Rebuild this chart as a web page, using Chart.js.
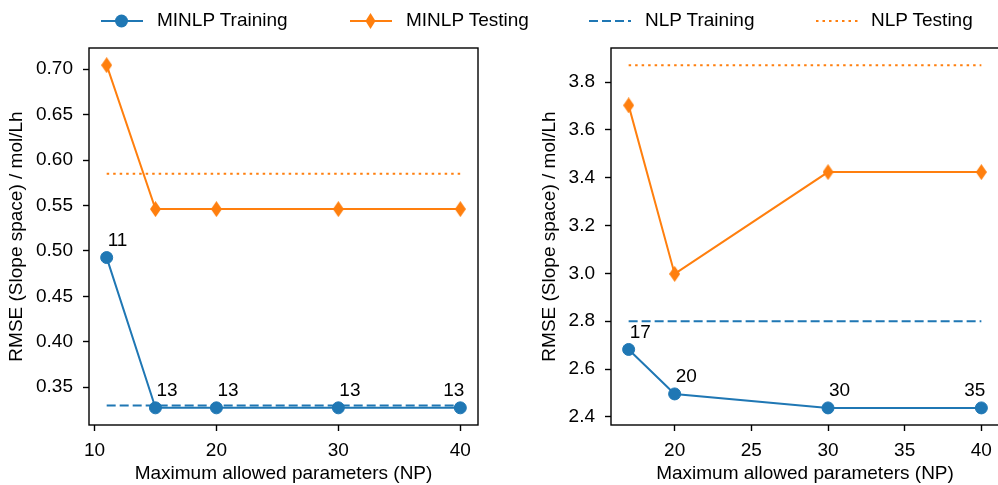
<!DOCTYPE html>
<html>
<head>
<meta charset="utf-8">
<script src="https://cdn.jsdelivr.net/npm/chart.js@4.4.1/dist/chart.umd.min.js"></script>
<style>
  body { margin: 0; background: #fff; width: 998px; height: 485px; position: relative; overflow: hidden;
         font-family: "Liberation Sans", Arial, sans-serif; }
  .chart-box { position: absolute; top: 0; height: 485px; }
  .leg-icon { position: absolute; top: 11px; }
  .leg-text { position: absolute; top: 9px; height: 22px; line-height: 22px; font-size: 19px; color: #000; white-space: nowrap; z-index: 2; }
</style>
</head>
<body>

<svg class="leg-icon" style="left:101px" width="42" height="20">
  <line x1="0" y1="10" x2="42" y2="10" stroke="#1f77b4" stroke-width="2"/>
  <circle cx="20.5" cy="10" r="6.5" fill="#1f77b4"/>
</svg>
<div class="leg-text" style="left:157px">MINLP Training</div>

<svg class="leg-icon" style="left:350px" width="42" height="20">
  <line x1="0" y1="10" x2="42" y2="10" stroke="#ff7f0e" stroke-width="2"/>
  <polygon points="20.5,2 25.5,10 20.5,18 15.5,10" fill="#ff7f0e"/>
</svg>
<div class="leg-text" style="left:406px">MINLP Testing</div>

<svg class="leg-icon" style="left:589px" width="42" height="20">
  <line x1="0" y1="10" x2="42" y2="10" stroke="#1f77b4" stroke-width="2" stroke-dasharray="9 4"/>
</svg>
<div class="leg-text" style="left:645px">NLP Training</div>

<svg class="leg-icon" style="left:816px" width="42" height="20">
  <line x1="0" y1="10" x2="42" y2="10" stroke="#ff7f0e" stroke-width="2" stroke-dasharray="2.5 4"/>
</svg>
<div class="leg-text" style="left:871px">NLP Testing</div>

<div class="chart-box" style="left:0;width:500px"><canvas id="left-chart" width="500" height="485"></canvas></div>
<div class="chart-box" style="left:500px;width:500px"><canvas id="right-chart" width="500" height="485"></canvas></div>

<script>
// ---- data ----
const leftNP = [11, 15, 20, 30, 40];
const leftMinlpTrain = [0.4926, 0.3272, 0.3272, 0.3272, 0.3272];
const leftMinlpTest = [0.7044, 0.546, 0.546, 0.546, 0.546];
const leftParamCount = ['11', '13', '13', '13', '13'];
const leftNlpTrain = 0.3297;
const leftNlpTest = 0.585;
const leftXTicks = [10, 20, 30, 40];
const leftYTicks = [0.35, 0.40, 0.45, 0.50, 0.55, 0.60, 0.65, 0.70];

const rightNP = [17, 20, 30, 40];
const rightMinlpTrain = [2.682, 2.496, 2.4375, 2.4375];
const rightMinlpTest = [3.703, 2.998, 3.424, 3.424];
const rightParamCount = ['17', '20', '30', '35'];
const rightNlpTrain = 2.80;
const rightNlpTest = 3.871;
const rightXTicks = [20, 25, 30, 35, 40];
const rightYTicks = [2.4, 2.6, 2.8, 3.0, 3.2, 3.4, 3.6, 3.8];

const BLUE = '#1f77b4';
const ORANGE = '#ff7f0e';
const FONT = { family: '"Liberation Sans", Arial, sans-serif', size: 19 };
const Y_TITLE = 'RMSE (Slope space) / mol/Lh';
const X_TITLE = 'Maximum allowed parameters (NP)';

// thin diamond marker (matplotlib 'd')
function thinDiamond(color, w, h) {
    const c = document.createElement('canvas');
    c.width = w; c.height = h;
    const g = c.getContext('2d');
    g.fillStyle = color;
    g.beginPath();
    g.moveTo(w / 2, 0); g.lineTo(w, h / 2); g.lineTo(w / 2, h); g.lineTo(0, h / 2);
    g.closePath(); g.fill();
    return c;
}
const diamond = thinDiamond(ORANGE, 11, 16);

// box around the plot area
const frame = {
    id: 'frame',
    afterDraw(chart) {
        const a = chart.chartArea, ctx = chart.ctx;
        ctx.save();
        ctx.strokeStyle = '#000';
        ctx.lineWidth = 1.4;
        ctx.strokeRect(a.left, a.top, a.right - a.left, a.bottom - a.top);
        ctx.restore();
    }
};

// parameter count annotations next to the training markers
const countLabels = {
    id: 'countLabels',
    afterDatasetsDraw(chart, args, opts) {
        const meta = chart.getDatasetMeta(0);
        const ctx = chart.ctx;
        const last = opts.labels.length - 1;
        ctx.save();
        ctx.font = FONT.size + 'px ' + FONT.family;
        ctx.fillStyle = '#000';
        ctx.textBaseline = 'alphabetic';
        opts.labels.forEach((t, i) => {
            const p = meta.data[i];
            // last label is pulled back inside the axes
            ctx.textAlign = i === last ? 'right' : 'left';
            ctx.fillText(t, i === last ? p.x + 4 : p.x + 1, p.y - 11.5);
        });
        ctx.restore();
    }
};

const zip = (xs, ys) => xs.map((x, i) => ({ x: x, y: ys[i] }));
const flat = (xs, v) => [{ x: xs[0], y: v }, { x: xs[xs.length - 1], y: v }];

function makeChart(id, p) {
    return new Chart(document.getElementById(id), {
        type: 'line',
        data: {
            datasets: [
                { label: 'MINLP Training', data: zip(p.np, p.train), borderColor: BLUE, backgroundColor: BLUE,
                  borderWidth: 2, pointRadius: 6, pointBorderWidth: 1, pointBorderColor: BLUE, pointBackgroundColor: BLUE },
                { label: 'MINLP Testing', data: zip(p.np, p.test), borderColor: ORANGE, backgroundColor: ORANGE,
                  borderWidth: 2, pointStyle: diamond },
                { label: 'NLP Training', data: flat(p.np, p.nlpTrain), borderColor: BLUE, borderWidth: 2,
                  borderDash: [9, 4], pointRadius: 0 },
                { label: 'NLP Testing', data: flat(p.np, p.nlpTest), borderColor: ORANGE, borderWidth: 2,
                  borderDash: [2.5, 4], pointRadius: 0 }
            ]
        },
        options: {
            responsive: false,
            animation: false,
            layout: { autoPadding: false, padding: { top: 48, right: p.padRight, bottom: 0, left: 0 } },
            plugins: {
                legend: { display: false },
                tooltip: { enabled: false },
                countLabels: { labels: p.counts }
            },
            scales: {
                x: {
                    type: 'linear', min: p.xMin, max: p.xMax,
                    afterBuildTicks: s => { s.ticks = p.xTicks.map(v => ({ value: v })); },
                    afterFit: s => { s.height = 60; s.paddingLeft = 0; s.paddingRight = 0; },
                    grid: { drawOnChartArea: false, tickLength: 6, tickColor: '#000', tickWidth: 1.4 },
                    border: { display: false },
                    ticks: { color: '#000', font: FONT, padding: 8, maxRotation: 0 },
                    title: { display: true, text: X_TITLE, color: '#000', font: FONT, padding: { top: 0, bottom: 0 } }
                },
                y: {
                    type: 'linear', min: p.yMin, max: p.yMax,
                    afterBuildTicks: s => { s.ticks = p.yTicks.map(v => ({ value: v })); },
                    afterFit: s => { s.width = p.yWidth; s.paddingTop = 0; s.paddingBottom = 0; },
                    grid: { drawOnChartArea: false, tickLength: 6, tickColor: '#000', tickWidth: 1.4 },
                    border: { display: false },
                    ticks: { color: '#000', font: FONT, padding: 10, callback: v => v.toFixed(p.digits) },
                    title: { display: true, text: Y_TITLE, color: '#000', font: FONT, padding: { top: p.titlePad, bottom: 0 } }
                }
            }
        },
        plugins: [frame, countLabels]
    });
}

makeChart('left-chart', {
    np: leftNP, train: leftMinlpTrain, test: leftMinlpTest, counts: leftParamCount,
    nlpTrain: leftNlpTrain, nlpTest: leftNlpTest,
    xTicks: leftXTicks, yTicks: leftYTicks, xMin: 9.55, xMax: 41.45, yMin: 0.3083, yMax: 0.7233,
    digits: 2, yWidth: 89, padRight: 22, titlePad: 5
});

makeChart('right-chart', {
    np: rightNP, train: rightMinlpTrain, test: rightMinlpTest, counts: rightParamCount,
    nlpTrain: rightNlpTrain, nlpTest: rightNlpTest,
    xTicks: rightXTicks, yTicks: rightYTicks, xMin: 15.85, xMax: 41.15, yMin: 2.366, yMax: 3.943,
    digits: 1, yWidth: 111, padRight: 1, titlePad: 38
});
</script>
</body>
</html>
